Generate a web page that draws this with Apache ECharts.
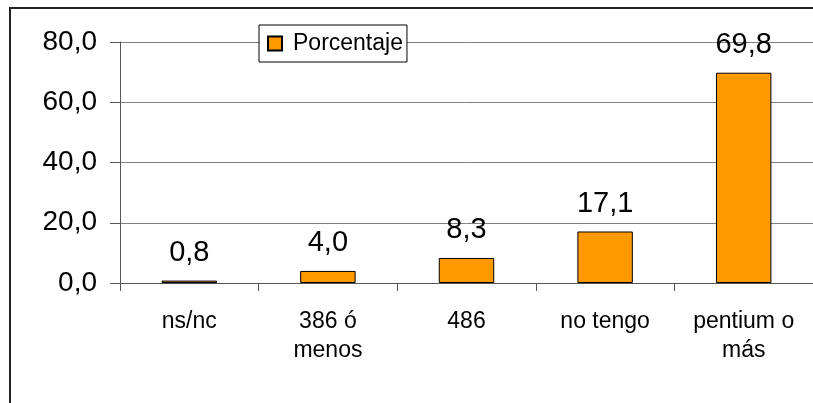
<!DOCTYPE html>
<html><head><meta charset="utf-8">
<script src="https://cdn.jsdelivr.net/npm/echarts@6/dist/echarts.min.js"></script>
<style>html,body{margin:0;padding:0;background:#fff;overflow:hidden}#c{width:813px;height:403px}</style>
</head><body><div id="c"></div>
<script>
const categories = ['ns/nc', '386 ó\nmenos', '486', 'no tengo', 'pentium o\nmás'];
const porcentaje = [0.8, 4.0, 8.3, 17.1, 69.8];
const seriesName = 'Porcentaje';
const yMin = 0, yMax = 80, yInterval = 20;

const fmt = v => v.toFixed(1).replace('.', ',');
const chart = echarts.init(document.getElementById('c'), null, {renderer: 'canvas'});
chart.setOption({
  animation: false,
  backgroundColor: '#fff',
  textStyle: {fontFamily: 'Liberation Sans, Arial, sans-serif'},
  graphic: [{
    type: 'rect', z: -1, silent: true,
    shape: {x: 10, y: 8, width: 900, height: 500},
    style: {fill: 'none', stroke: '#222', lineWidth: 2}
  }],
  grid: {left: 120, top: 42, width: 695, height: 241, containLabel: false},
  legend: {
    left: 259, top: 25,
    padding: [7, 4, 7, 8],
    itemWidth: 14, itemHeight: 14,
    backgroundColor: '#fff', borderColor: '#000', borderWidth: 1,
    textStyle: {fontSize: 23, color: '#000', padding: [0, 0, 0, 6], fontFamily: 'Liberation Sans, Arial, sans-serif'},
    data: [{name: seriesName, icon: 'rect'}]
  },
  xAxis: {
    type: 'category', data: categories,
    axisLine: {lineStyle: {color: '#555', width: 1}},
    axisTick: {show: true, alignWithLabel: false, length: 8, lineStyle: {color: '#555'}},
    axisLabel: {fontSize: 23, color: '#000', margin: 24, lineHeight: 29, interval: 0}
  },
  yAxis: {
    type: 'value', min: yMin, max: yMax, interval: yInterval,
    axisLine: {show: true, lineStyle: {color: '#555', width: 1}},
    axisTick: {show: true, inside: false, length: 10, lineStyle: {color: '#555'}},
    splitLine: {lineStyle: {color: '#808080', width: 1}},
    axisLabel: {fontSize: 28, color: '#000', margin: 23, formatter: v => fmt(v)}
  },
  series: [{
    name: seriesName, type: 'bar', data: porcentaje,
    barWidth: '40%',
    itemStyle: {color: '#FF9900', borderColor: '#000', borderWidth: 1},
    label: {show: true, position: 'top', distance: 13, fontSize: 29, color: '#000', formatter: p => fmt(p.value)}
  }]
});
</script></body></html>
